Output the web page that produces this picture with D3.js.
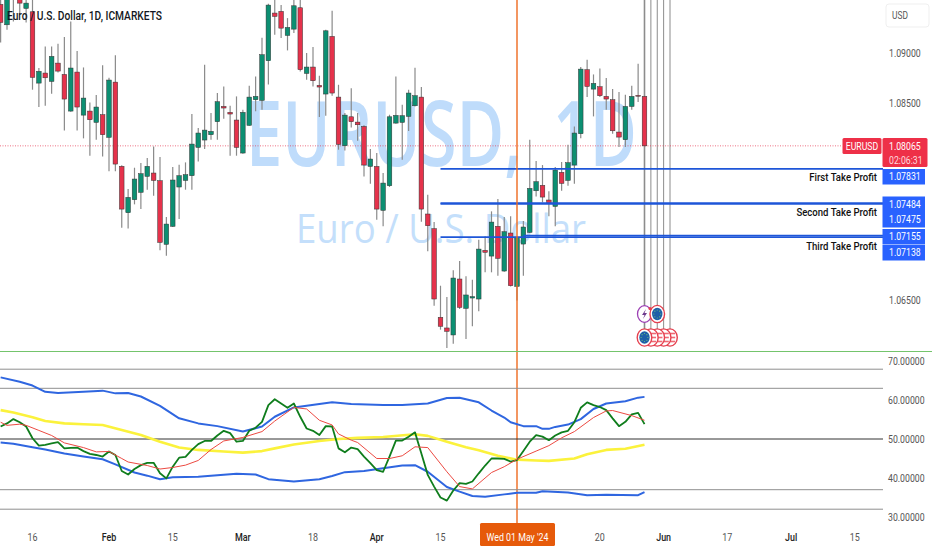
<!DOCTYPE html>
<html>
<head>
<meta charset="utf-8">
<script src="https://cdn.jsdelivr.net/npm/d3@7"></script>
<style>
  html, body { margin: 0; padding: 0; background: #fff; overflow: hidden; }
  text { font-family: Roboto, sans-serif; }
</style>
</head>
<body>
<div id="chart"></div>
<script>
// daily candles
const opens = [1.09501,1.09294,1.09683,1.09565,1.09460,1.09426,1.08702,1.08804,1.08719,1.08905,
  1.08790,1.08418,1.08814,1.08377,1.08418,1.08303,1.08381,1.08151,1.08712,1.07857,
  1.07386,1.07518,1.07593,1.07755,1.07789,1.07711,1.07065,1.07248,1.07647,1.07714,
  1.07762,1.08049,1.08124,1.08178,1.08310,1.08465,1.08405,1.08327,1.07992,1.08273,
  1.08533,1.08526,1.08929,1.09413,1.09430,1.09186,1.09250,1.09467,1.08800,1.08865,
  1.08679,1.08591,1.09176,1.08560,1.08066,1.08360,1.08306,1.08262,1.07856,1.07856,
  1.07410,1.07660,1.08296,1.08303,1.08364,1.08472,1.08560,1.07373,1.07224,1.06324,
  1.06216,1.06145,1.06713,1.06415,1.06520,1.06510,1.07004,1.06946,1.07248,1.06794,
  1.07180,1.06638,1.07068,1.07187,1.07609,1.07664,1.07515,1.07450,1.07796,1.07714,
  1.07870,1.08188,1.08838,1.08641,1.08665,1.08567,1.08533,1.08205,1.08127,1.08465,
  1.08577,1.08567];
const highs = [1.09649,1.09683,1.09751,1.09616,1.09582,1.09565,1.08855,1.09074,1.09074,1.09101,
  1.09169,1.09328,1.09027,1.08861,1.08506,1.08580,1.08882,1.08756,1.08986,1.07867,
  1.07626,1.07843,1.07890,1.07941,1.08059,1.07951,1.07342,1.07850,1.07873,1.07897,
  1.08388,1.08246,1.08888,1.08398,1.08601,1.08668,1.08472,1.08567,1.08432,1.08675,
  1.08770,1.09162,1.09507,1.09568,1.09494,1.09362,1.09578,1.09578,1.09007,1.09068,
  1.08777,1.09244,1.09436,1.08685,1.08398,1.08651,1.08398,1.08273,1.08032,1.07992,
  1.07789,1.08381,1.08770,1.08482,1.08635,1.08858,1.08662,1.07569,1.07291,1.06645,
  1.06530,1.06801,1.06896,1.06740,1.06706,1.07112,1.07146,1.07400,1.07525,1.07342,
  1.07349,1.07146,1.07302,1.08127,1.07911,1.07870,1.07603,1.07850,1.07900,1.08076,
  1.08262,1.08865,1.08939,1.08790,1.08851,1.08753,1.08641,1.08611,1.08584,1.08675,
  1.08898,1.08577];
const lows = [1.09115,1.09244,1.09328,1.09413,1.09318,1.08635,1.08459,1.08472,1.08594,1.08810,
  1.08222,1.08411,1.08222,1.08141,1.07965,1.08127,1.07958,1.07806,1.07806,1.07234,
  1.07227,1.07471,1.07423,1.07620,1.07559,1.07004,1.06950,1.07241,1.07322,1.07620,
  1.07620,1.07907,1.08032,1.08127,1.08127,1.08340,1.07965,1.07965,1.07985,1.08269,
  1.08415,1.08432,1.08689,1.09193,1.09159,1.09034,1.09210,1.08821,1.08736,1.08668,
  1.08357,1.08371,1.08574,1.08026,1.08019,1.08252,1.08117,1.07755,1.07681,1.07315,
  1.07248,1.07647,1.08289,1.07924,1.08215,1.08465,1.07295,1.06994,1.06442,1.06199,
  1.06013,1.06057,1.06408,1.06104,1.06233,1.06385,1.06781,1.06781,1.06747,1.06787,
  1.06638,1.06496,1.06747,1.07180,1.07552,1.07491,1.07349,1.07248,1.07609,1.07660,
  1.07681,1.08141,1.08560,1.08364,1.08560,1.08432,1.08188,1.08053,1.08053,1.08432,
  1.08509,1.08065];
const closes = [1.09318,1.09616,1.09582,1.09514,1.09514,1.08760,1.08821,1.08756,1.08973,1.08824,
  1.08540,1.08855,1.08459,1.08550,1.08330,1.08459,1.08178,1.08733,1.07880,1.07423,
  1.07542,1.07728,1.07782,1.07857,1.07714,1.07085,1.07271,1.07718,1.07762,1.07772,
  1.08083,1.08195,1.08225,1.08212,1.08513,1.08449,1.08388,1.08049,1.08405,1.08560,
  1.08567,1.08990,1.09494,1.09379,1.09260,1.09267,1.09487,1.08838,1.08865,1.08726,
  1.08662,1.09233,1.08601,1.08080,1.08377,1.08310,1.08279,1.07870,1.07931,1.07423,
  1.07687,1.08360,1.08374,1.08371,1.08601,1.08574,1.07423,1.07254,1.06510,1.06233,
  1.06182,1.06723,1.06425,1.06551,1.06534,1.07017,1.06984,1.07291,1.06923,1.07193,
  1.06645,1.07136,1.07241,1.07633,1.07701,1.07545,1.07478,1.07819,1.07684,1.07894,
  1.08195,1.08844,1.08668,1.08699,1.08574,1.08540,1.08218,1.08154,1.08465,1.08567,
  1.08570,1.08065];

// indicator pane: green line has a value per bar, the smooth ones are read at some bars
const rsiValues = [53.2,54,55.1,54.3,53.2,50.2,48.3,48.5,48.9,49.2,47.6,47.7,47.8,46.9,46.2,45.9,45.5,46.8,45.9,41.8,
  40.9,42.3,43.3,43.9,43.9,41.2,39.9,42.9,45.2,45.4,47.2,48.7,49.5,49.5,50.9,52.1,51.5,49.3,49.5,52.1,
  52.9,54.4,58.7,60.2,59.1,58,59.1,55.7,52.7,52.1,51,53.3,53.2,47.6,46.6,47.8,47.4,45.5,43.8,42,
  41.6,45.5,49.6,49.6,50.6,51.7,46.3,40.8,37.8,35,34.2,36.8,38.7,38.5,39.1,41.2,43.2,45,45,44.9,
  44.2,44.6,46.9,49.3,51,50.6,49.7,50.9,51.7,52.1,54.3,58,59.4,58.7,58.2,57.4,55.3,53.3,54.4,56.3,
  56.7,53.8];

const upperBars = [0,3,5,7,9,13,16,18,20,22,25,28,31,34,38,41,43,46,50,52,55,60,63,67,70,72,75,77,79,80,82,84,85,86,87,89,91,93,95,98,100,101];
const upperValues = [65.8,64.7,63.7,62.1,61.8,62.1,62.4,61.7,61.8,60.9,58.5,55.3,54,53.3,51.9,53.2,55.7,58.1,59,59.4,59,58.7,58.7,59.1,60.5,60.6,59.4,57.3,55.5,54.3,53.3,53.3,52.6,52.6,53.1,53.7,55.1,57.7,59.1,59.7,60.6,60.8];

const lowerBars = [0,2,5,7,10,13,16,18,21,23,25,27,31,34,37,40,42,46,50,52,54,57,60,63,65,67,70,72,74,76,79,81,84,85,89,92,95,100,101];
const lowerValues = [49.1,48.8,47.9,47.3,46.3,45.5,44.8,43.5,41.4,40.6,39.7,40.2,40.3,40.7,41.1,40.9,39.7,39.1,39.7,40.5,41.5,41.8,42.5,43.2,43.3,41.6,37.7,36.5,35.4,35.2,35.8,36.2,36.2,36.6,36.3,35.6,35.7,35.6,36.4];

const yellowBars = [0,2,5,7,10,13,16,19,22,25,28,31,35,38,41,43,46,50,53,56,60,65,67,70,73,75,78,81,84,86,90,92,95,98,101];
const yellowValues = [57.4,56.8,55.6,54.6,54,53.8,53.6,52.3,51,49.3,47.8,47.2,46.8,46.5,46.9,47.6,48.6,49.5,50,50.3,50.5,51.2,50.8,49.3,47.9,47.1,45.7,44.7,44.5,44.4,45,46.1,47.2,47.5,48.5];

const redBars = [0,1,3,4,6,8,10,13,15,17,19,20,23,25,27,29,31,33,35,38,41,43,46,48,50,52,53,55,56,59,61,63,65,67,70,72,74,77,79,81,84,86,88,90,93,95,96,99,101];
const redValues = [54.3,53.5,53.8,53.5,52.2,50.9,49,47.8,46.7,46.8,45,44.1,43.2,42.3,42.7,43.3,44.5,47.3,49.5,50.4,51.9,54.6,58.1,57.7,54.8,53.6,51.3,49.7,49.1,45,45,45.7,48,47.8,41.6,37.8,37.2,41.4,42.9,44.8,46.9,48.3,50.3,51.9,55.5,57.2,57.3,56,54.8];

const paneLevels = [67.9, 63, 50, 37, 32];
const priceTicks = [1.09, 1.085, 1.065];
const paneTicks = [70, 60, 50, 40, 30];

// bar numbers of the date labels; bar 81 is 01 May, bar 101 the last candle
const dateTicks = [5,17,27,38,49,59,69,94,104,114,124,134];
const dateLabels = ["16","Feb","15","Mar","18","Apr","15","20","Jun","17","Jul","15"];
const boldLabels = ["Feb","Mar","Apr","Jun","Jul"];

const targets = [
  { price: 1.07831, from: 69, width: 1.6 },
  { price: 1.07484, from: 69, width: 1.6 },
  { price: 1.07475, from: 69, width: 1.6 },
  { price: 1.07155, from: 82, width: 1.6 },
  { price: 1.07138, from: 69, width: 1.6 }
];
const targetNames = ["First Take Profit", "Second Take Profit", "Third Take Profit"];
const targetTagPrices = ["1.07831", "1.07484", "1.07475", "1.07155", "1.07138"];

const eventBars = [101, 102, 103, 104, 105];
const bottomIcons = ["eu", "us", "us", "us", "us"];
const topIconBars = [101, 103];
const topIcons = ["bolt", "eu"];

const width = 932, height = 550;
const GREEN = "#0c8f72", RED = "#e5324b", BLUE = "#2962ff";

const x = d3.scaleLinear().domain([81, 101]).range([517, 644.5]);
const y = d3.scaleLinear().domain([1.085, 1.065]).range([103, 300]);
const yPane = d3.scaleLinear().domain([50, 60]).range([439, 400]);
const paneRight = 883;

const svg = d3.select("#chart").append("svg")
  .attr("width", width).attr("height", height)
  .style("display", "block");

// the original font is narrower than anything installed, so squeeze text a bit
function squeeze(sel, ratio) {
  sel.each(function () {
    this.setAttribute("textLength", this.getComputedTextLength() * ratio);
    this.setAttribute("lengthAdjust", "spacingAndGlyphs");
  });
}

// watermark, stretched with a transform so its box stays true
function watermark(label, left, base, size, weight, color, w) {
  const t = svg.append("text").text(label)
    .attr("font-size", size).attr("font-weight", weight).attr("fill", color)
    .style("font-family", "'Open Sans'");
  const natural = t.node().getComputedTextLength();
  t.attr("transform", `translate(${left},${base}) scale(${w / natural},1)`);
}
watermark("EURUSD,", 246, 166, 91, 600, "#bfdcfb", 276);
watermark("1D", 553, 166, 91, 600, "#bfdcfb", 84);
watermark("Euro / U.S. Dollar", 296, 243, 41, 400, "#c4dffb", 290);

// event lines behind the candles
svg.append("g").selectAll("line").data(eventBars).join("line")
  .attr("x1", d => x(d)).attr("x2", d => x(d))
  .attr("y1", 0).attr("y2", 332)
  .attr("stroke", "#8c8c8c").attr("stroke-width", (d, i) => i == 0 ? 1.6 : 1);

// last price line
svg.append("line")
  .attr("x1", 0).attr("x2", 842)
  .attr("y1", y(closes[101])).attr("y2", y(closes[101]))
  .attr("stroke", RED).attr("stroke-width", 0.7).attr("stroke-dasharray", "1 1.5");

// candles
const candle = svg.append("g").selectAll("g").data(d3.range(opens.length)).join("g");
candle.append("line")
  .attr("x1", i => x(i)).attr("x2", i => x(i))
  .attr("y1", i => y(highs[i])).attr("y2", i => y(lows[i]))
  .attr("stroke", "#8a8a8a").attr("stroke-width", 1.2);
candle.append("rect")
  .attr("x", i => x(i) - 2.3)
  .attr("width", 4.6)
  .attr("y", i => y(Math.max(opens[i], closes[i])))
  .attr("height", i => Math.max(0.8, Math.abs(y(opens[i]) - y(closes[i]))))
  .attr("fill", i => closes[i] >= opens[i] ? GREEN : RED)
  .attr("stroke", "#333").attr("stroke-width", 0.5);

// take profit lines
svg.append("g").selectAll("line").data(targets).join("line")
  .attr("x1", d => x(d.from)).attr("x2", paneRight)
  .attr("y1", d => y(d.price)).attr("y2", d => y(d.price))
  .attr("stroke", "#1e56d8").attr("stroke-width", d => d.width);

// vertical date cursor
svg.append("line")
  .attr("x1", x(81)).attr("x2", x(81))
  .attr("y1", 0).attr("y2", 524)
  .attr("stroke", "#ee6a1f").attr("stroke-width", 1.4);

// pane separator
svg.append("line").attr("x1", 0).attr("x2", width).attr("y1", 351.5).attr("y2", 351.5)
  .attr("stroke", "#74c46c").attr("stroke-width", 1.2);

// pane levels
svg.append("g").selectAll("line").data(paneLevels).join("line")
  .attr("x1", 0).attr("x2", paneRight)
  .attr("y1", d => yPane(d)).attr("y2", d => yPane(d))
  .attr("stroke", d => d == 50 ? "#333" : "#8f8f8f").attr("stroke-width", 1);

// indicator lines
const line = d3.line().x(d => x(d[0])).y(d => yPane(d[1]));
function drawSeries(bars, values, color, w) {
  svg.append("path")
    .attr("d", line(bars.map((b, i) => [b, values[i]])))
    .attr("fill", "none").attr("stroke", color).attr("stroke-width", w)
    .attr("stroke-linejoin", "round");
}
drawSeries(upperBars, upperValues, "#2f66e0", 2);
drawSeries(lowerBars, lowerValues, "#2f66e0", 2);
drawSeries(yellowBars, yellowValues, "#fbf23c", 2.6);
drawSeries(d3.range(rsiValues.length), rsiValues, "#0f7d1c", 1.8);
drawSeries(redBars, redValues, "#ec4a42", 1);

// event icons
function drawIcon(cx, cy, kind) {
  const g = svg.append("g").attr("transform", `translate(${cx},${cy})`);
  if (kind == "bolt") {
    g.append("ellipse").attr("rx", 7).attr("ry", 8.3).attr("fill", "#fff").attr("stroke", "#9c3fb4").attr("stroke-width", 1.3);
    g.append("path").attr("d", "M1.5 -5 L-2.5 1 L0 1 L-1.5 5 L2.5 -1 L0 -1 Z").attr("fill", "#6d3a8c");
    return;
  }
  g.append("ellipse").attr("rx", 7.3).attr("ry", 8.6).attr("fill", "#fff").attr("stroke", "#e5404f").attr("stroke-width", 1.4);
  if (kind == "eu") {
    g.append("ellipse").attr("rx", 5.2).attr("ry", 6.2).attr("fill", "#1f5fa8");
    d3.range(8).forEach(k => {
      g.append("circle").attr("r", 0.6).attr("fill", "#6fc07a")
        .attr("cx", 3.4 * Math.cos(k * Math.PI / 4)).attr("cy", 4 * Math.sin(k * Math.PI / 4));
    });
  } else {
    [-4, 0, 4].forEach(k => {
      g.append("rect").attr("x", -5.2).attr("y", k - 0.8).attr("width", 10.4).attr("height", 1.6).attr("fill", "#ef6a75");
    });
  }
}
d3.range(eventBars.length).reverse().forEach(i => drawIcon(x(eventBars[i]), 337.5, bottomIcons[i]));
topIconBars.forEach((b, i) => drawIcon(x(b), 314, topIcons[i]));
svg.append("circle").attr("cx", x(101) + 5.5).attr("cy", 308.5).attr("r", 1.6).attr("fill", "#e5404f");

// title
svg.append("text").text("Euro / U.S. Dollar, 1D, ICMARKETS")
  .attr("x", 7).attr("y", 20)
  .attr("font-size", 12).attr("font-weight", 500).attr("fill", "#131722")
  .attr("textLength", 155).attr("lengthAdjust", "spacingAndGlyphs");

// price scale
const priceLabels = svg.append("g").selectAll("text").data(priceTicks).join("text")
  .text(d => d.toFixed(5))
  .attr("x", 889).attr("y", d => y(d)).attr("dy", "0.35em")
  .attr("font-size", 10.5).attr("fill", "#555");
squeeze(priceLabels, 0.83);
const paneLabels = svg.append("g").selectAll("text").data(paneTicks).join("text")
  .text(d => d.toFixed(5))
  .attr("x", 888).attr("y", d => yPane(d)).attr("dy", "0.35em")
  .attr("font-size", 10.5).attr("fill", "#555");
squeeze(paneLabels, 0.83);

// USD button
svg.append("rect").attr("x", 886).attr("y", 4).attr("width", 43).attr("height", 23)
  .attr("rx", 3).attr("fill", "#fff").attr("stroke", "#efefef");
squeeze(svg.append("text").text("USD").attr("x", 892).attr("y", 15.5).attr("dy", "0.35em")
  .attr("font-size", 10.5).attr("fill", "#555"), 0.8);

// last price tags
svg.append("rect").attr("x", 842.5).attr("y", 138).attr("width", 39).attr("height", 16).attr("rx", 1.5).attr("fill", "#ee3048");
squeeze(svg.append("text").text("EURUSD").attr("x", 862).attr("y", 146).attr("dy", "0.35em")
  .attr("text-anchor", "middle").attr("font-size", 10.5).attr("fill", "#fff"), 0.83);
svg.append("rect").attr("x", 882.5).attr("y", 138).attr("width", 45).attr("height", 29).attr("rx", 1.5).attr("fill", "#ee3048");
squeeze(svg.append("text").text(closes[101].toFixed(5)).attr("x", 889).attr("y", 146).attr("dy", "0.35em")
  .attr("font-size", 10.5).attr("fill", "#fff"), 0.83);
squeeze(svg.append("text").text("02:06:31").attr("x", 889).attr("y", 160).attr("dy", "0.35em")
  .attr("font-size", 10.5).attr("fill", "#ffd9de"), 0.83);

// take profit tags, pushed apart the way the scale stacks them
const tagTops = [169, 196.5, 212, 229, 245];
svg.append("g").selectAll("rect").data(tagTops).join("rect")
  .attr("x", 882.5).attr("y", d => d).attr("width", 42.5).attr("height", 15.5)
  .attr("fill", BLUE);
const tagLabels = svg.append("g").selectAll("text").data(tagTops).join("text")
  .text((d, i) => targetTagPrices[i])
  .attr("x", 889).attr("y", d => d + 7.5).attr("dy", "0.35em")
  .attr("font-size", 10.5).attr("fill", "#fff");
squeeze(tagLabels, 0.83);

// take profit names
const nameY = [177, 212.5, 246.5];
const nameLabels = svg.append("g").selectAll("text").data(targetNames).join("text")
  .text(d => d)
  .attr("x", 877).attr("y", (d, i) => nameY[i]).attr("dy", "0.35em")
  .attr("text-anchor", "end").attr("font-size", 11).attr("font-weight", 500).attr("fill", "#111");
squeeze(nameLabels, 0.87);

// date axis
const dateText = svg.append("g").selectAll("text").data(dateTicks).join("text")
  .text((d, i) => dateLabels[i])
  .attr("x", d => x(d)).attr("y", 537).attr("dy", "0.35em")
  .attr("text-anchor", "middle").attr("font-size", 10.5)
  .attr("font-weight", (d, i) => boldLabels.includes(dateLabels[i]) ? 500 : 400)
  .attr("fill", (d, i) => boldLabels.includes(dateLabels[i]) ? "#222" : "#555");
squeeze(dateText, 0.85);

svg.append("rect").attr("x", 480).attr("y", 523).attr("width", 75).attr("height", 23).attr("rx", 1.5).attr("fill", "#e65a0a");
squeeze(svg.append("text").text("Wed 01 May '24").attr("x", 517.5).attr("y", 537).attr("dy", "0.35em")
  .attr("text-anchor", "middle").attr("font-size", 10.5).attr("fill", "#fff"), 0.84);
</script>
</body>
</html>
